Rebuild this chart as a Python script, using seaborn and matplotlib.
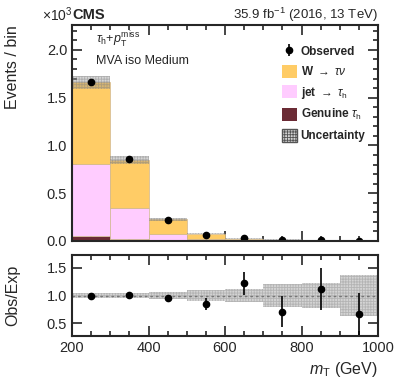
import numpy as np
import pandas as pd
import matplotlib
matplotlib.use("Agg")
import matplotlib.pyplot as plt
from matplotlib.patches import Patch
from matplotlib.ticker import MultipleLocator
import seaborn as sns

# ---------------- data (values in units of 10^3 events) ----------------
bin_edges = [200, 300, 400, 500, 600, 700, 800, 900, 1000]
w_taunu = [0.850, 0.495, 0.155, 0.057, 0.018, 0.0100, 0.0045, 0.0037]
jet_tau = [0.755, 0.325, 0.064, 0.018, 0.006, 0.0025, 0.0008, 0.0007]
genuine = [0.055, 0.025, 0.006, 0.002, 0.001, 0.0005, 0.0002, 0.0001]
observed = [1.660, 0.853, 0.220, 0.065, 0.030, 0.0093, 0.0062, 0.0030]
observed_err = [0.013, 0.009, 0.005, 0.0025, 0.0017, 0.001, 0.0008, 0.0005]
ratio = [1.00, 1.01, 0.96, 0.84, 1.22, 0.71, 1.12, 0.66]
ratio_err = [0.01, 0.02, 0.03, 0.11, 0.21, 0.28, 0.38, 0.39]
rel_unc = [0.04, 0.05, 0.07, 0.10, 0.12, 0.21, 0.23, 0.37]

labels = ["W", "jet", "Genuine"]
colors = {"W": "#FFCC66", "jet": "#FFCCFF", "Genuine": "#6B2B35"}

edges = np.array(bin_edges, dtype=float)
centers = 0.5 * (edges[:-1] + edges[1:])
widths = np.diff(edges)

rows = []
for name, vals in zip(labels, [w_taunu, jet_tau, genuine]):
    for c, v in zip(centers, vals):
        rows.append({"mt": c, "w": v, "process": name})
df = pd.DataFrame(rows)

total = np.array(w_taunu) + np.array(jet_tau) + np.array(genuine)
unc = total * np.array(rel_unc)

# ---------------- figure ----------------
sns.set_style("ticks")
plt.rcParams["font.family"] = ["Liberation Sans", "DejaVu Sans"]
plt.rcParams["mathtext.fontset"] = "custom"
plt.rcParams["mathtext.rm"] = "Liberation Sans"
plt.rcParams["mathtext.it"] = "Liberation Sans:italic"
plt.rcParams["mathtext.bf"] = "Liberation Sans:bold"
plt.rcParams["hatch.linewidth"] = 0.6

fig = plt.figure(figsize=(3.99, 3.83), dpi=100)
L, R = 72 / 399, 378 / 399
ax = fig.add_axes([L, 1 - 241 / 383, R - L, (241 - 25) / 383])
rx = fig.add_axes([L, 1 - 336 / 383, R - L, (336 - 255) / 383])

sns.histplot(data=df, x="mt", weights="w", hue="process", hue_order=labels,
             bins=bin_edges, multiple="stack", element="bars",
             palette=colors, alpha=1.0, linewidth=0.5, edgecolor="#d0b890",
             legend=False, ax=ax)

ax.bar(centers, 2 * unc, bottom=total - unc, width=widths,
       facecolor=(0.55, 0.55, 0.55, 0.35), edgecolor=(0.5, 0.5, 0.5, 0.45),
       hatch="++++++", linewidth=0)
obs_h = ax.errorbar(centers, observed, yerr=observed_err, fmt="o", color="black",
                    markersize=4.5, elinewidth=1.2, capsize=0)

ax.set_xlim(200, 1000)
ax.set_ylim(0, 2.26)
ax.set_xlabel("")
ax.set_ylabel("Events / bin", fontsize=11.5, loc="top")
ax.yaxis.set_major_locator(MultipleLocator(0.5))
ax.yaxis.set_minor_locator(MultipleLocator(0.1))
ax.xaxis.set_major_locator(MultipleLocator(200))
ax.xaxis.set_minor_locator(MultipleLocator(50))
ax.tick_params(labelbottom=False)

# ratio panel
rel = np.array(rel_unc)
rx.bar(centers, 2 * rel, bottom=1 - rel, width=widths,
       facecolor="#d4d4d4", edgecolor="#b4b4b4", hatch="++++++", linewidth=0)
rx.axhline(1.0, color="#777777", linestyle=(0, (2, 2)), linewidth=1.0)
rx.errorbar(centers, ratio, yerr=ratio_err, fmt="o", color="black",
            markersize=4.5, elinewidth=1.2, capsize=0)
rx.set_xlim(200, 1000)
rx.set_ylim(0.27, 1.73)
rx.yaxis.set_major_locator(MultipleLocator(0.5))
rx.xaxis.set_major_locator(MultipleLocator(200))
rx.xaxis.set_minor_locator(MultipleLocator(50))
rx.set_ylabel("Obs/Exp", fontsize=11.5)
rx.set_xlabel(r"$m_{\mathrm{T}}$ (GeV)", fontsize=11.5, loc="right")

for a in (ax, rx):
    for s in a.spines.values():
        s.set_linewidth(1.5)
        s.set_visible(True)
    a.tick_params(which="both", direction="in", top=True, right=True,
                  labelsize=10.5, width=1.2)
    a.tick_params(which="major", length=7)
    a.tick_params(which="minor", length=3.5)
ax.yaxis.set_label_coords(-0.17, 1.0)
rx.yaxis.set_label_coords(-0.17, 0.5)

# texts
fig.text(0.105, 1 - 15 / 383, r"$\times10^{3}$", fontsize=10, va="center", ha="left")
fig.text(L, 1 - 15 / 383, "CMS", fontsize=10.5, fontweight="bold", va="center", ha="left")
fig.text(R, 1 - 15 / 383, r"35.9 fb$^{-1}$ (2016, 13 TeV)", fontsize=9.5,
         va="center", ha="right")
ax.text(0.08, 0.93, r"$\tau_{\mathrm{h}}$+$p_{\mathrm{T}}^{\mathrm{miss}}$",
        transform=ax.transAxes, fontsize=9, va="center")
ax.text(0.08, 0.835, "MVA iso Medium", transform=ax.transAxes, fontsize=9, va="center")

handles = [
    obs_h,
    Patch(facecolor=colors["W"], edgecolor="none"),
    Patch(facecolor=colors["jet"], edgecolor="none"),
    Patch(facecolor=colors["Genuine"], edgecolor="none"),
    Patch(facecolor="#d4d4d4", edgecolor="#555555", hatch="++++++", linewidth=1),
]
leg_labels = ["Observed",
              r"W $\rightarrow$ $\tau\nu$",
              r"jet $\rightarrow$ $\tau_{\mathrm{h}}$",
              r"Genuine $\tau_{\mathrm{h}}$",
              "Uncertainty"]
leg = ax.legend(handles, leg_labels, loc="upper left", bbox_to_anchor=(0.67, 0.93),
                frameon=False, fontsize=8.5, handlelength=1.3, handleheight=1.3,
                labelspacing=0.55, handletextpad=0.3, borderaxespad=0)
for t in leg.get_texts():
    t.set_fontweight("bold")

fig.savefig("out.png", dpi=100)
